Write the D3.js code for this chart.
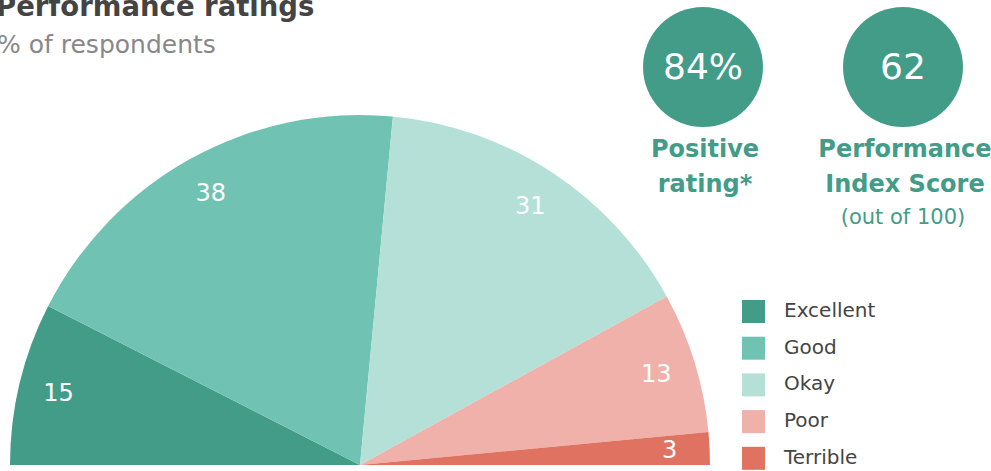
<!DOCTYPE html>
<html><head><meta charset="utf-8">
<script src="https://cdn.jsdelivr.net/npm/d3@7"></script>
<style>body{margin:0;background:#fff}svg{display:block}</style>
</head><body><svg id="c" width="991" height="471"></svg>
<script>
const categories = ["Excellent","Good","Okay","Poor","Terrible"];
const values = [15,38,31,13,3];
const colors = ["#429c88","#70c3b3","#b4e0d8","#efb1aa","#e07262"];
const kpiValues = ["84%","62"];
const kpiLabels = [["Positive","rating*"],["Performance","Index Score"]];
const kpiNotes = ["","(out of 100)"];

const FONT = "'DejaVu Sans', sans-serif";
const svg = d3.select("#c");
const cx = 360, cy = 465, R = 350, labelR = 310;

svg.append("text").attr("x",-4).attr("y",16).text("Performance ratings")
  .attr("font-family",FONT).attr("font-size",27.5).attr("font-weight",700).attr("fill","#444");
svg.append("text").attr("x",-3).attr("y",53).text("% of respondents")
  .attr("font-family",FONT).attr("font-size",25).attr("fill","#888");

const pie = d3.pie().sort(null).value(d=>d).startAngle(-Math.PI/2).endAngle(Math.PI/2);
const arcs = pie(values);
const arc = d3.arc().innerRadius(0).outerRadius(R);
const labelArc = d3.arc().innerRadius(labelR).outerRadius(labelR);
const color = d3.scaleOrdinal().domain(categories).range(colors);

const g = svg.append("g").attr("transform",`translate(${cx},${cy})`);
g.selectAll("path").data(arcs).join("path")
  .attr("d",arc).attr("fill",(d,i)=>color(categories[i]));
g.selectAll("text").data(arcs).join("text")
  .attr("transform",d=>{const [x,y]=labelArc.centroid(d);return `translate(${x},${y})`;})
  .attr("text-anchor","middle").attr("dominant-baseline","central")
  .attr("font-family",FONT).attr("font-size",24).attr("fill","#fff")
  .text(d=>d.data);

// KPIs
const kx = [703, 903];
kx.forEach((x,i)=>{
  svg.append("circle").attr("cx",x).attr("cy",67).attr("r",60).attr("fill","#429c88");
  svg.append("text").attr("x",x).attr("y",79).attr("text-anchor","middle")
    .attr("font-family",FONT).attr("font-size",36).attr("fill","#fff").text(kpiValues[i]);
  kpiLabels[i].forEach((t,j)=>{
    svg.append("text").attr("x",x+2).attr("y",157+j*35).attr("text-anchor","middle")
      .attr("font-family",FONT).attr("font-size",24).attr("font-weight",700).attr("fill","#429c88").text(t);
  });
  if(kpiNotes[i]) svg.append("text").attr("x",x).attr("y",224).attr("text-anchor","middle")
      .attr("font-family",FONT).attr("font-size",21).attr("fill","#429c88").text(kpiNotes[i]);
});

// legend
const lg = svg.append("g");
categories.forEach((c,i)=>{
  const y = 300 + i*36.7;
  lg.append("rect").attr("x",742).attr("y",y).attr("width",23).attr("height",23).attr("fill",color(c));
  lg.append("text").attr("x",784).attr("y",y+17).
    attr("font-family",FONT).attr("font-size",20).attr("fill","#444").text(c);
});
</script></body></html>
